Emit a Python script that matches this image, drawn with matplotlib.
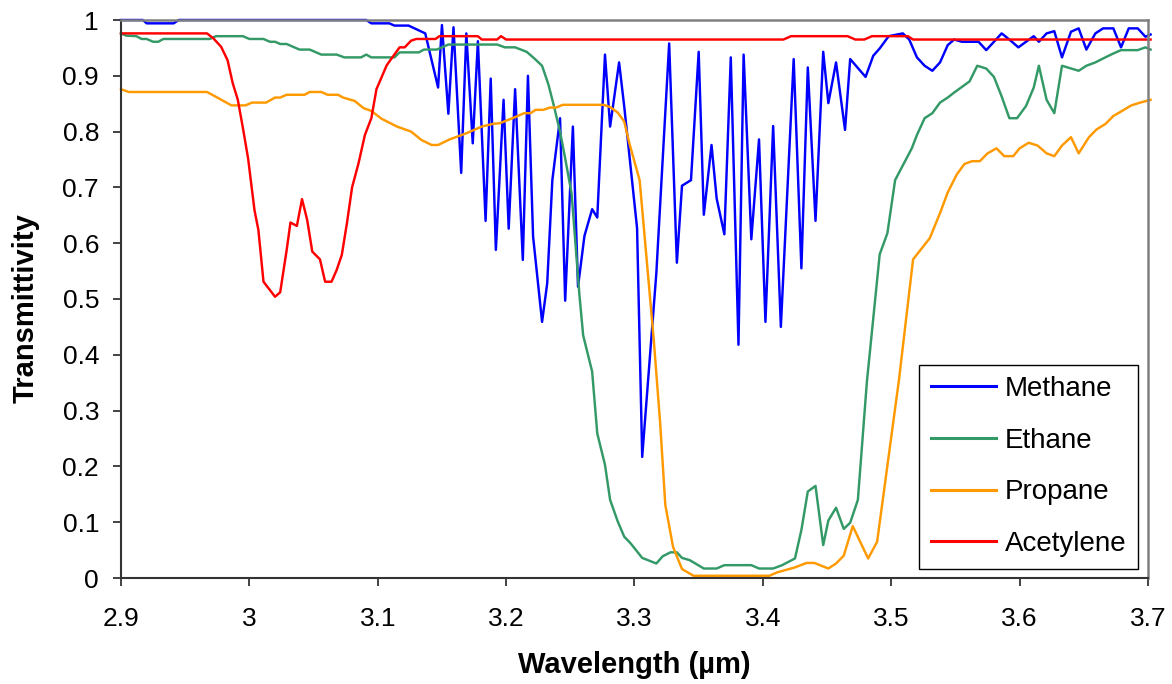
import matplotlib
matplotlib.use('Agg')
import matplotlib.pyplot as plt

# wavelength (um) / transmittivity
methane_wl = [2.900, 2.917, 2.920, 2.941, 2.945, 3.091, 3.095, 3.109, 3.113, 3.124,
              3.137, 3.147, 3.150, 3.155, 3.159, 3.165, 3.169, 3.174, 3.178, 3.184,
              3.188, 3.192, 3.198, 3.202, 3.207, 3.213, 3.217, 3.221, 3.228, 3.232,
              3.236, 3.242, 3.246, 3.252, 3.256, 3.261, 3.267, 3.271, 3.277, 3.281,
              3.288, 3.292, 3.302, 3.306, 3.317, 3.327, 3.333, 3.337, 3.344, 3.350,
              3.354, 3.360, 3.364, 3.370, 3.375, 3.381, 3.385, 3.391, 3.397, 3.402,
              3.408, 3.414, 3.424, 3.430, 3.435, 3.441, 3.447, 3.451, 3.457, 3.464,
              3.468, 3.480, 3.486, 3.491, 3.498, 3.509, 3.514, 3.520, 3.526, 3.532,
              3.538, 3.544, 3.549, 3.555, 3.568, 3.574, 3.586, 3.592, 3.599, 3.605,
              3.611, 3.615, 3.621, 3.627, 3.633, 3.640, 3.646, 3.652, 3.659, 3.665,
              3.673, 3.679, 3.685, 3.692, 3.698, 3.702]
methane_t = [1.0, 1.0, 0.994, 0.994, 1.0, 1.0, 0.994, 0.994, 0.990, 0.990,
             0.976, 0.879, 0.991, 0.832, 0.987, 0.726, 0.976, 0.779, 0.962, 0.640,
             0.895, 0.588, 0.857, 0.626, 0.876, 0.570, 0.900, 0.612, 0.459, 0.528,
             0.713, 0.824, 0.497, 0.809, 0.522, 0.613, 0.661, 0.646, 0.938, 0.809,
             0.924, 0.845, 0.627, 0.217, 0.546, 0.958, 0.565, 0.703, 0.713, 0.943,
             0.651, 0.776, 0.680, 0.616, 0.933, 0.418, 0.938, 0.607, 0.786, 0.459,
             0.810, 0.450, 0.930, 0.555, 0.915, 0.640, 0.943, 0.851, 0.924, 0.803,
             0.930, 0.898, 0.936, 0.949, 0.971, 0.976, 0.965, 0.933, 0.918, 0.909,
             0.924, 0.955, 0.965, 0.961, 0.961, 0.946, 0.976, 0.965, 0.951, 0.961,
             0.971, 0.961, 0.976, 0.980, 0.933, 0.979, 0.985, 0.947, 0.976, 0.985,
             0.985, 0.951, 0.985, 0.985, 0.970, 0.974]

ethane_wl = [2.900, 2.904, 2.912, 2.916, 2.920, 2.925, 2.929, 2.933, 2.969, 2.974,
             2.995, 3.000, 3.011, 3.016, 3.020, 3.024, 3.029, 3.039, 3.047, 3.056,
             3.068, 3.074, 3.087, 3.091, 3.095, 3.113, 3.117, 3.132, 3.136, 3.146,
             3.155, 3.193, 3.199, 3.207, 3.216, 3.222, 3.228, 3.233, 3.237, 3.242,
             3.246, 3.251, 3.257, 3.260, 3.267, 3.271, 3.277, 3.281, 3.287, 3.292,
             3.297, 3.306, 3.317, 3.322, 3.328, 3.333, 3.337, 3.343, 3.354, 3.364,
             3.370, 3.391, 3.397, 3.408, 3.415, 3.420, 3.425, 3.430, 3.435, 3.441,
             3.447, 3.451, 3.457, 3.463, 3.468, 3.474, 3.481, 3.491, 3.497, 3.503,
             3.516, 3.520, 3.526, 3.532, 3.538, 3.544, 3.549, 3.561, 3.567, 3.574,
             3.580, 3.586, 3.592, 3.598, 3.605, 3.611, 3.615, 3.621, 3.627, 3.633,
             3.646, 3.652, 3.659, 3.665, 3.673, 3.679, 3.692, 3.698, 3.702]
ethane_t = [0.976, 0.972, 0.971, 0.966, 0.966, 0.961, 0.961, 0.966, 0.966, 0.971,
            0.971, 0.966, 0.966, 0.961, 0.961, 0.957, 0.957, 0.947, 0.947, 0.938,
            0.938, 0.933, 0.933, 0.938, 0.933, 0.933, 0.942, 0.942, 0.947, 0.947,
            0.956, 0.956, 0.951, 0.951, 0.943, 0.931, 0.918, 0.884, 0.848, 0.800,
            0.752, 0.689, 0.510, 0.435, 0.370, 0.259, 0.203, 0.140, 0.101, 0.074,
            0.062, 0.036, 0.026, 0.039, 0.046, 0.046, 0.036, 0.032, 0.017, 0.017,
            0.023, 0.023, 0.017, 0.017, 0.023, 0.029, 0.035, 0.086, 0.155, 0.165,
            0.059, 0.103, 0.126, 0.088, 0.099, 0.140, 0.351, 0.580, 0.618, 0.713,
            0.770, 0.794, 0.824, 0.833, 0.852, 0.861, 0.870, 0.890, 0.918, 0.913,
            0.898, 0.863, 0.824, 0.824, 0.846, 0.879, 0.918, 0.857, 0.833, 0.918,
            0.909, 0.918, 0.924, 0.931, 0.940, 0.946, 0.946, 0.951, 0.947]

propane_wl = [2.900, 2.906, 2.967, 2.975, 2.986, 2.997, 3.002, 3.013, 3.020, 3.024,
              3.029, 3.043, 3.047, 3.056, 3.061, 3.069, 3.073, 3.082, 3.089, 3.095,
              3.103, 3.115, 3.126, 3.134, 3.142, 3.147, 3.156, 3.169, 3.181, 3.190,
              3.195, 3.206, 3.214, 3.219, 3.223, 3.229, 3.234, 3.239, 3.244, 3.276,
              3.281, 3.287, 3.292, 3.296, 3.304, 3.315, 3.320, 3.324, 3.330, 3.337,
              3.346, 3.405, 3.411, 3.425, 3.434, 3.440, 3.451, 3.457, 3.463, 3.470,
              3.482, 3.489, 3.506, 3.517, 3.530, 3.538, 3.544, 3.551, 3.557, 3.563,
              3.569, 3.575, 3.582, 3.588, 3.595, 3.600, 3.607, 3.614, 3.621, 3.627,
              3.633, 3.640, 3.646, 3.654, 3.660, 3.667, 3.673, 3.679, 3.687, 3.694,
              3.702]
propane_t = [0.876, 0.871, 0.871, 0.861, 0.847, 0.847, 0.852, 0.852, 0.861, 0.861,
             0.866, 0.866, 0.871, 0.871, 0.866, 0.866, 0.861, 0.855, 0.842, 0.837,
             0.823, 0.809, 0.800, 0.785, 0.776, 0.776, 0.786, 0.797, 0.809, 0.814,
             0.815, 0.825, 0.833, 0.833, 0.839, 0.839, 0.843, 0.843, 0.848, 0.848,
             0.844, 0.834, 0.818, 0.779, 0.713, 0.427, 0.277, 0.131, 0.056, 0.016,
             0.004, 0.004, 0.010, 0.019, 0.027, 0.027, 0.017, 0.026, 0.040, 0.093,
             0.035, 0.065, 0.355, 0.571, 0.609, 0.654, 0.691, 0.723, 0.742, 0.747,
             0.747, 0.761, 0.770, 0.756, 0.756, 0.770, 0.780, 0.775, 0.761, 0.756,
             0.775, 0.790, 0.761, 0.790, 0.804, 0.814, 0.828, 0.836, 0.847, 0.852,
             0.857]

acetylene_wl = [2.900, 2.967, 2.972, 2.978, 2.983, 2.987, 2.991, 2.995, 2.999, 3.004,
                3.007, 3.011, 3.020, 3.024, 3.029, 3.032, 3.037, 3.041, 3.045, 3.049,
                3.055, 3.059, 3.064, 3.068, 3.072, 3.076, 3.080, 3.085, 3.090, 3.095,
                3.099, 3.107, 3.117, 3.121, 3.126, 3.130, 3.145, 3.148, 3.178, 3.181,
                3.193, 3.196, 3.200, 3.416, 3.422, 3.466, 3.472, 3.479, 3.485, 3.513,
                3.517, 3.702]
acetylene_t = [0.976, 0.976, 0.967, 0.952, 0.928, 0.887, 0.857, 0.806, 0.752, 0.659,
               0.624, 0.531, 0.504, 0.512, 0.587, 0.637, 0.631, 0.679, 0.642, 0.585,
               0.571, 0.531, 0.531, 0.552, 0.579, 0.636, 0.700, 0.743, 0.794, 0.824,
               0.876, 0.919, 0.951, 0.951, 0.963, 0.966, 0.966, 0.971, 0.971, 0.965,
               0.965, 0.971, 0.965, 0.965, 0.971, 0.971, 0.965, 0.965, 0.971, 0.971,
               0.965, 0.965]

xticks = [2.9, 3.0, 3.1, 3.2, 3.3, 3.4, 3.5, 3.6, 3.7]
xtick_labels = ['2.9', '3', '3.1', '3.2', '3.3', '3.4', '3.5', '3.6', '3.7']
yticks = [0, 0.1, 0.2, 0.3, 0.4, 0.5, 0.6, 0.7, 0.8, 0.9, 1.0]
ytick_labels = ['0', '0.1', '0.2', '0.3', '0.4', '0.5', '0.6', '0.7', '0.8', '0.9', '1']

plt.rcParams['font.family'] = ['Liberation Sans', 'DejaVu Sans']

fig = plt.figure(figsize=(11.72, 6.84), dpi=100)
ax = fig.add_axes([121 / 1172, 1 - 578 / 684, 1027 / 1172, 558 / 684])

lw = 1.75
ax.plot(methane_wl, methane_t, color='#0000FF', lw=lw, label='Methane', clip_on=False)
ax.plot(ethane_wl, ethane_t, color='#339966', lw=lw, label='Ethane', clip_on=False)
ax.plot(propane_wl, propane_t, color='#FF9900', lw=lw, label='Propane', clip_on=False)
ax.plot(acetylene_wl, acetylene_t, color='#FF0000', lw=lw, label='Acetylene', clip_on=False)

ax.set_xlim(2.9, 3.7)
ax.set_ylim(0, 1)
ax.set_xticks(xticks)
ax.set_xticklabels(xtick_labels)
ax.set_yticks(yticks)
ax.set_yticklabels(ytick_labels)
ax.tick_params(direction='out', length=5.8, width=1.2, labelsize=19,
               colors='#222222', labelcolor='black')
ax.tick_params(axis='x', pad=15)
ax.tick_params(axis='y', pad=10)

for side in ['left', 'bottom']:
    ax.spines[side].set_color('#333333')
    ax.spines[side].set_linewidth(1.5)
for side in ['top', 'right']:
    ax.spines[side].set_color('#808080')
    ax.spines[side].set_linewidth(1.8)

ax.set_xlabel('Wavelength (µm)', fontsize=21, fontweight='bold')
ax.xaxis.set_label_coords(0.5, -0.13)
ax.set_ylabel('Transmittivity', fontsize=21, fontweight='bold')
ax.yaxis.set_label_coords(-0.079, 0.483)

leg = ax.legend(loc='lower right', bbox_to_anchor=(0.990, 0.017), borderaxespad=0,
                fontsize=20, fancybox=False, framealpha=1, edgecolor='black',
                handlelength=2.35, handletextpad=0.3, labelspacing=0.92,
                borderpad=0.42)
leg.get_frame().set_linewidth(1.0)
for line in leg.get_lines():
    line.set_linewidth(2.2)

fig.savefig('out.png', dpi=100)
